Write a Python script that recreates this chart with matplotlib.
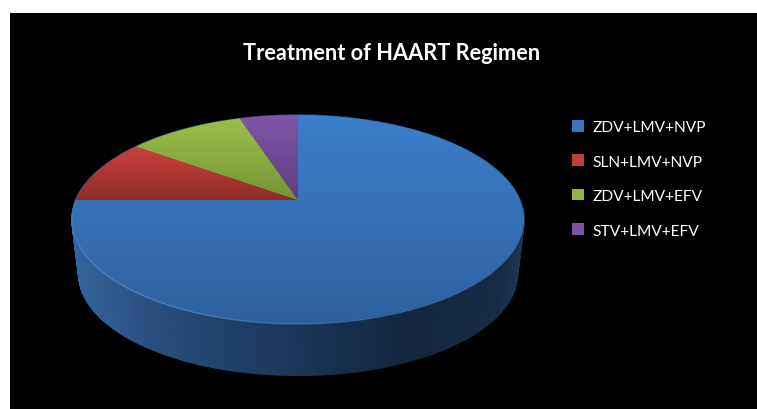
import numpy as np
import matplotlib
matplotlib.use("Agg")
import matplotlib.pyplot as plt
from matplotlib.collections import PolyCollection, LineCollection
from matplotlib.colors import to_rgb, LinearSegmentedColormap
from matplotlib.patches import Patch, Polygon, Rectangle

title = "Treatment of HAART Regimen"
categories = ["ZDV+LMV+NVP", "SLN+LMV+NVP", "ZDV+LMV+EFV", "STV+LMV+EFV"]
values = [75, 10, 10, 5]
top_colors = ["#3C7FCC", "#CC413D", "#9CBF4A", "#8056A8"]
bottom_colors = ["#2E609D", "#8F2C2A", "#759434", "#5E3E80"]
legend_colors = ["#3A76BC", "#BE3F3B", "#93B445", "#7A56A0"]

W, H = 757, 410
CX, CY = 298.0, 201.0
A, B, K = 222.0, 100.9, 0.1866


def project(theta, r=1.0, scale=1.0, dy=0.0):
    """Clockwise angle from the top of the disc -> pixel position, in perspective."""
    u, v = r * np.sin(theta), -r * np.cos(theta)
    d = 1 - K * v
    return CX + scale * A * u / d, CY + dy + scale * B * v / d


fig = plt.figure(figsize=(W / 100, H / 100), dpi=100, facecolor="white")
ax = fig.add_axes([0, 0, 1, 1])
ax.set_xlim(0, W)
ax.set_ylim(H, 0)
ax.axis("off")
ax.add_patch(Rectangle((10, 14), W + 10, H + 10, fc="black", ec="none", zorder=0))

# side wall
wall_stops = [(72, "#33659F"), (150, "#2B5080"), (298, "#1A3556"),
              (400, "#15273F"), (500, "#172B45"), (525, "#1E3A5C")]
wall_x = [s[0] for s in wall_stops]
wall_rgb = np.array([to_rgb(s[1]) for s in wall_stops])
th = np.linspace(0, 2 * np.pi, 721)
tx, ty = project(th)
bx, by = project(th, scale=0.97, dy=55.0)
quads, cols = [], []
for i in range(len(th) - 1):
    quads.append([(tx[i], ty[i]), (tx[i + 1], ty[i + 1]), (bx[i + 1], by[i + 1]), (bx[i], by[i])])
    xm = (tx[i] + bx[i]) / 2
    cols.append([np.interp(xm, wall_x, wall_rgb[:, c]) for c in range(3)])
order = np.argsort(-np.cos(th[:-1]))
ax.add_collection(PolyCollection([quads[i] for i in order],
                                 facecolors=[cols[i] for i in order],
                                 edgecolors=[cols[i] for i in order],
                                 linewidths=1.0, zorder=1))

# top-face slices
shares = np.array(values, dtype=float) / sum(values)
edges = np.concatenate([[0], np.cumsum(shares)]) * 2 * np.pi
for i, (c1, c2) in enumerate(zip(top_colors, bottom_colors)):
    t = np.linspace(edges[i], edges[i + 1], 240)
    px, py = project(t)
    px, py = np.r_[CX, px], np.r_[CY, py]
    patch = Polygon(np.c_[px, py], closed=True, fc=c2, ec="none", transform=ax.transData, zorder=2)
    ax.add_patch(patch)
    cmap = LinearSegmentedColormap.from_list("g", [c1, c2])
    im = ax.imshow(np.linspace(0, 1, 128)[:, None], cmap=cmap, aspect="auto", zorder=3,
                   extent=(px.min(), px.max(), py.max(), py.min()), interpolation="bilinear")
    im.set_clip_path(patch)
ax.set_xlim(0, W)
ax.set_ylim(H, 0)

# lit rim along the front edge of the disc
rim_t = np.linspace(np.radians(275), np.radians(125), 200)
rx, ry = project(rim_t)
segs = [[(rx[i], ry[i]), (rx[i + 1], ry[i + 1])] for i in range(len(rx) - 1)]
alphas = np.clip(np.sin(np.linspace(0.12, np.pi * 0.98, len(segs))) * 0.8, 0, 0.8) * \
    np.linspace(1, 0.1, len(segs))
ax.add_collection(LineCollection(segs, colors=[(0.36, 0.62, 0.90, a) for a in alphas],
                                 linewidths=1.1, zorder=4))

ax.text(392, 53.5, title, color="white", fontsize=15.7, fontweight="bold",
        family="Lato", ha="center", va="center", zorder=5)

handles = [Patch(facecolor=c, edgecolor="none") for c in legend_colors]
leg = ax.legend(handles, categories, loc="upper left", bbox_to_anchor=(572 / W, 1 - 121 / H),
                frameon=False, labelcolor="white", handlelength=0.77, handleheight=0.77,
                handletextpad=0.55, labelspacing=1.3, borderpad=0, borderaxespad=0,
                prop={"family": "Lato", "size": 11.2})
leg.set_zorder(5)

fig.savefig("out.png", dpi=100, facecolor="white")
